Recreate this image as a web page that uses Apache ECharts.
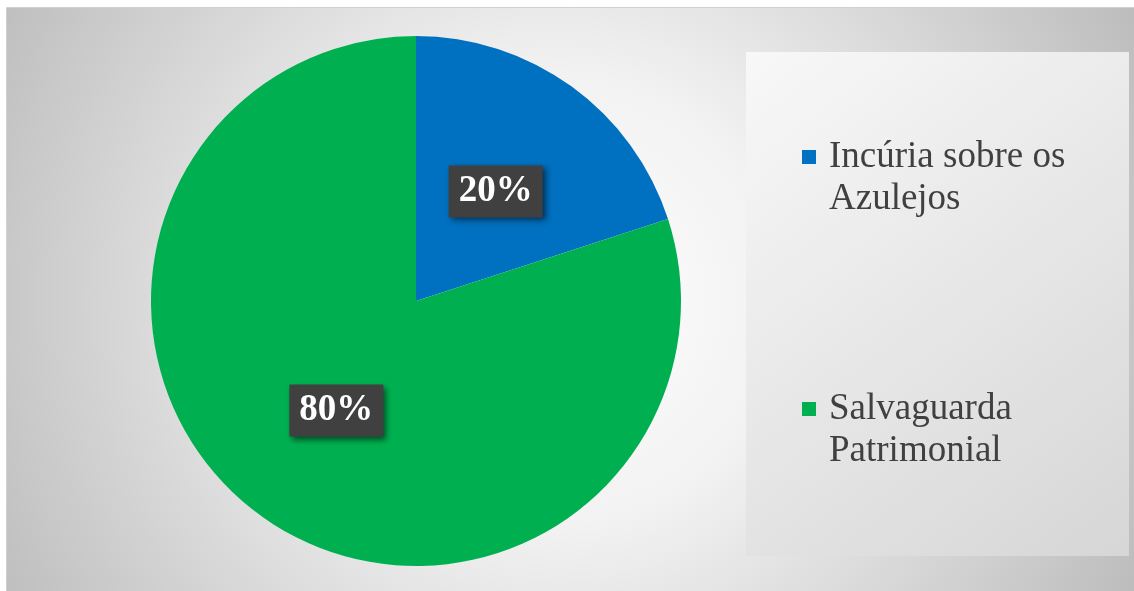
<!DOCTYPE html>
<html>
<head>
<meta charset="utf-8">
<script src="https://cdn.jsdelivr.net/npm/echarts@6/dist/echarts.min.js"></script>
<style>html,body{margin:0;padding:0;background:#fff;}#chart{width:1134px;height:591px;}</style>
</head>
<body>
<div id="chart"></div>
<script>
const categories = ['Incúria sobre os Azulejos', 'Salvaguarda Patrimonial'];
const legendLabels = ['Incúria sobre os\nAzulejos', 'Salvaguarda\nPatrimonial'];
const values = [20, 80];
const colors = ['#0070C0', '#00B050'];

const chart = echarts.init(document.getElementById('chart'), null, {renderer: 'canvas'});
const serif = '"Liberation Serif", "Times New Roman", serif';
chart.setOption({
  animation: false,
  backgroundColor: '#ffffff',
  color: colors,
  graphic: [
    {
      type: 'rect', z: -10, silent: true,
      shape: {x: 6.5, y: 7.5, width: 1128, height: 584},
      style: {
        fill: {type: 'radial', x: 560, y: 300, r: 640, global: true,
          colorStops: [{offset: 0, color: '#ffffff'}, {offset: 0.35, color: '#f2f2f2'}, {offset: 1, color: '#bdbdbd'}]},
        stroke: '#d0d0d0', lineWidth: 1
      }
    },
    {
      type: 'rect', z: -9, silent: true,
      shape: {x: 746, y: 52, width: 383, height: 504},
      style: {
        fill: {type: 'linear', x: 0, y: 0, x2: 1, y2: 1,
          colorStops: [{offset: 0, color: '#f8f8f8'}, {offset: 1, color: '#d6d6d6'}]}
      }
    }
  ],
  legend: {
    orient: 'vertical',
    left: 802,
    top: 136,
    padding: 0,
    itemWidth: 22,
    itemHeight: 56,
    itemGap: 168,
    icon: 'path://M0,0h14v14h-14z M22,56 L22.01,56',
    selectedMode: false,
    data: categories,
    formatter: function (name) { return legendLabels[categories.indexOf(name)]; },
    textStyle: {
      fontFamily: serif, fontSize: 37, lineHeight: 42, color: '#404040'
    }
  },
  series: [{
    type: 'pie',
    center: [416, 301],
    radius: 265,
    startAngle: 90,
    clockwise: true,
    silent: true,
    emphasis: {disabled: true},
    itemStyle: {borderWidth: 0},
    label: {
      show: true,
      position: 'inside',
      formatter: '{d}%',
      fontFamily: serif,
      fontWeight: 'bold',
      fontSize: 37,
      lineHeight: 36,
      color: '#ffffff',
      backgroundColor: '#404040',
      padding: [8, 10, 8, 10],
      shadowColor: 'rgba(0,0,0,0.55)',
      shadowBlur: 6,
      shadowOffsetX: 3,
      shadowOffsetY: 3
    },
    labelLine: {show: false},
    data: categories.map((c, i) => ({name: c, value: values[i]}))
  }]
});
</script>
</body>
</html>
